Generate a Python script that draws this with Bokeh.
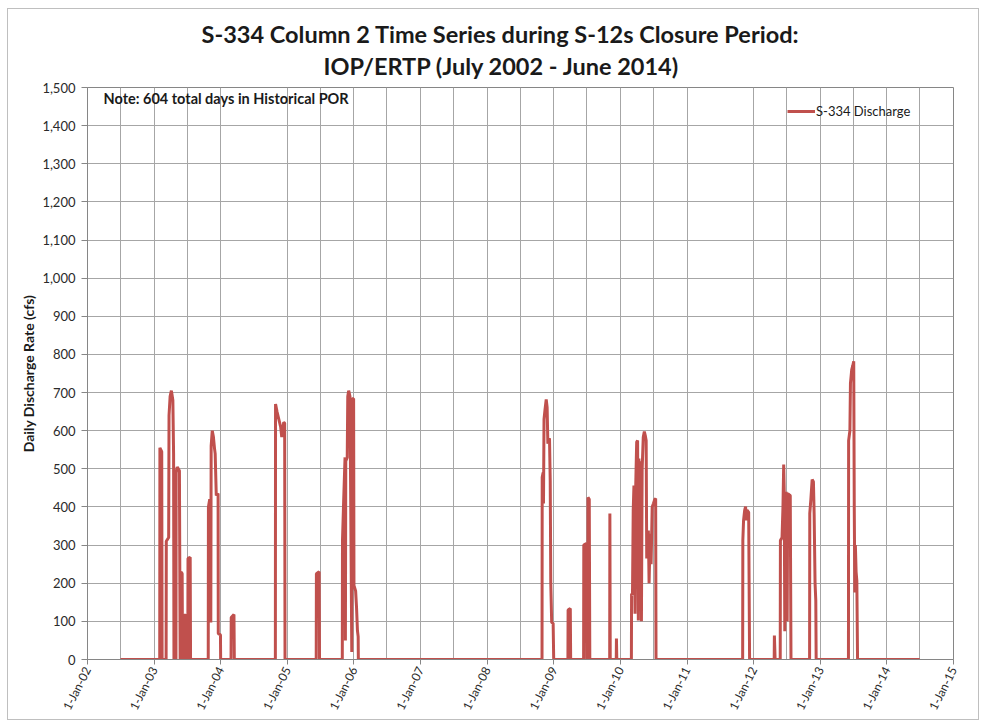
import pandas as pd
from bokeh.plotting import figure
from bokeh.models import (FixedTicker, DatetimeTickFormatter, NumeralTickFormatter,
                          Label, Range1d, ColumnDataSource, Title)
from bokeh.embed import file_html
from bokeh.resources import INLINE

# ---------------- data ----------------
dates = [
    "2002-07-01",
    "2003-02-01", "2003-02-02", "2003-02-12", "2003-02-14",
    "2003-03-08", "2003-03-09", "2003-03-22", "2003-03-24", "2003-03-30", "2003-04-06",
    "2003-04-14", "2003-04-18", "2003-04-20", "2003-05-01", "2003-05-02", "2003-05-08",
    "2003-05-20", "2003-05-24", "2003-05-28", "2003-06-04", "2003-06-06", "2003-06-16",
    "2003-06-17", "2003-06-24", "2003-06-26", "2003-07-05", "2003-07-06", "2003-07-18",
    "2003-07-20",
    "2003-10-25", "2003-10-26", "2003-11-02", "2003-11-06", "2003-11-08", "2003-11-10",
    "2003-11-16", "2003-11-22", "2003-11-28", "2003-12-02", "2003-12-08", "2003-12-18",
    "2003-12-19", "2003-12-31", "2004-01-01",
    "2004-02-27", "2004-02-28", "2004-03-14", "2004-03-16",
    "2004-10-27", "2004-10-28", "2004-11-05", "2004-11-15", "2004-11-25", "2004-12-01",
    "2004-12-05", "2004-12-12", "2004-12-17", "2004-12-19",
    "2005-06-08", "2005-06-09", "2005-06-24", "2005-06-26",
    "2005-10-29", "2005-10-30", "2005-11-05", "2005-11-13", "2005-11-15", "2005-11-17",
    "2005-11-25", "2005-11-28", "2005-12-03", "2005-12-10", "2005-12-20", "2005-12-22",
    "2005-12-30", "2006-01-01", "2006-01-10", "2006-01-15", "2006-01-20", "2006-01-24",
    "2006-01-25",
    "2008-10-28", "2008-10-29", "2008-11-03", "2008-11-05", "2008-11-08", "2008-11-14",
    "2008-11-20", "2008-11-25", "2008-11-29", "2008-12-04", "2008-12-08", "2008-12-12",
    "2008-12-15", "2008-12-20", "2008-12-28", "2008-12-31",
    "2009-03-19", "2009-03-20", "2009-04-01", "2009-04-03",
    "2009-06-13", "2009-06-14", "2009-06-28", "2009-06-30", "2009-07-06", "2009-07-07",
    "2009-07-14", "2009-07-17",
    "2009-11-03", "2009-11-04", "2009-11-06",
    "2009-12-09", "2009-12-10", "2009-12-12",
    "2010-03-02", "2010-03-03", "2010-03-08", "2010-03-12", "2010-03-16", "2010-03-19",
    "2010-03-22", "2010-03-26", "2010-03-31", "2010-04-05", "2010-04-09", "2010-04-12",
    "2010-04-18", "2010-04-22", "2010-04-26", "2010-04-30", "2010-05-06", "2010-05-12",
    "2010-05-18", "2010-05-22", "2010-05-25", "2010-05-29", "2010-06-03", "2010-06-07",
    "2010-06-13", "2010-06-18", "2010-06-24", "2010-07-01", "2010-07-08", "2010-07-13",
    "2010-07-15",
    "2011-11-02", "2011-11-03", "2011-11-07", "2011-11-13", "2011-11-18", "2011-11-22",
    "2011-11-26", "2011-12-05", "2011-12-10",
    "2012-04-23", "2012-04-24", "2012-04-28",
    "2012-05-26", "2012-05-27", "2012-06-05", "2012-06-10", "2012-06-14", "2012-06-17",
    "2012-06-20", "2012-06-24", "2012-06-28", "2012-07-03", "2012-07-06", "2012-07-14",
    "2012-07-20", "2012-07-24",
    "2012-11-03", "2012-11-04", "2012-11-10", "2012-11-17", "2012-11-24", "2012-11-28",
    "2012-12-03", "2012-12-07", "2012-12-09",
    "2013-06-04", "2013-06-05", "2013-06-12", "2013-06-15", "2013-06-22", "2013-06-28",
    "2013-07-03", "2013-07-06", "2013-07-09", "2013-07-12", "2013-07-16", "2013-07-20",
    "2013-07-24",
    "2014-06-30",
]
discharge = [
    0,
    0, 555, 545, 0,
    0, 310, 320, 640, 690, 705,
    680, 540, 0, 0, 490, 505,
    495, 0, 230, 225, 0, 0,
    115, 118, 0, 0, 265, 268,
    0,
    0, 400, 420, 410, 97, 560,
    600, 585, 555, 540, 430, 435,
    68, 65, 0,
    0, 110, 118, 0,
    0, 670, 650, 630, 610, 583,
    600, 622, 620, 0,
    0, 225, 230, 0,
    0, 312, 409, 530, 50, 520,
    530, 690, 705, 690, 20, 684,
    684, 194, 180, 137, 76, 60,
    0,
    0, 478, 490, 409, 630, 658,
    682, 661, 566, 575, 580, 469,
    200, 97, 95, 0,
    0, 130, 134, 0,
    0, 300, 304, 0, 0, 425,
    420, 0,
    0, 383, 0,
    0, 55, 0,
    0, 173, 170, 391, 456, 300,
    120, 460, 570, 574, 102, 527,
    450, 520, 100, 500, 583, 598,
    585, 574, 265, 330, 338, 200,
    330, 250, 400, 409, 420, 422,
    0,
    0, 312, 365, 391, 401, 365,
    392, 386, 0,
    0, 63, 0,
    0, 312, 320, 400, 511, 440,
    74, 430, 440, 100, 435, 432,
    430, 0,
    0, 383, 420, 472, 466, 380,
    200, 155, 0,
    0, 574, 600, 724, 760, 771,
    782, 391, 176, 300, 230, 207,
    0,
    0,
]
series_name = "S-334 Discharge"
x_tick_dates = ["%d-01-01" % y for y in range(2002, 2016)]
x_grid_dates = [
    "2002-01-01", "2002-07-01", "2003-01-01", "2003-07-01", "2004-01-01",
    "2005-01-01", "2005-07-01", "2006-01-01", "2006-07-01", "2007-01-01", "2007-07-01",
    "2008-01-01", "2008-07-01", "2009-01-01", "2009-07-01", "2010-01-01", "2010-07-01",
    "2011-01-01", "2012-01-01", "2012-07-01", "2013-01-01", "2013-07-01",
    "2014-01-01", "2014-07-01", "2015-01-01",
]
y_ticks = list(range(0, 1501, 100))
title_lines = ["S-334 Column 2 Time Series during S-12s Closure Period:",
               "IOP/ERTP (July 2002 - June 2014)"]
note_text = "Note: 604 total days in Historical POR"


def ms(s):
    return pd.Timestamp(s).value / 1e6


FONT = "Lato"
LINE_COLOR = "#C0504D"
GRID = "#A6A6A6"
TXT = "#1a1a1a"

src = ColumnDataSource(dict(x=pd.to_datetime(dates), y=discharge))

p = figure(frame_width=866, frame_height=572, x_axis_type="datetime",
           output_backend="svg", toolbar_location=None,
           min_border_left=79, min_border_right=25,
           min_border_top=78, min_border_bottom=60)
p.x_range = Range1d(ms(x_tick_dates[0]), ms(x_tick_dates[-1]))
p.y_range = Range1d(0, 1500)

p.line("x", "y", source=src, line_color=LINE_COLOR, line_width=3,
       legend_label=series_name)

# axes
p.xaxis.ticker = FixedTicker(ticks=[ms(d) for d in x_tick_dates])
fmt = "%-d-%b-%y"
p.xaxis.formatter = DatetimeTickFormatter(
    milliseconds=fmt, seconds=fmt, minsec=fmt, minutes=fmt, hourmin=fmt,
    hours=fmt, days=fmt, months=fmt, years=fmt)
p.xaxis.major_label_orientation = 1.1
p.yaxis.ticker = FixedTicker(ticks=y_ticks)
p.yaxis.formatter = NumeralTickFormatter(format="0,0")
p.yaxis.axis_label = "Daily Discharge Rate (cfs)"
p.yaxis.axis_label_text_font = FONT
p.yaxis.axis_label_text_font_style = "bold"
p.yaxis.axis_label_text_font_size = "14px"
p.yaxis.axis_label_text_color = TXT
p.yaxis.axis_label_standoff = 2
for ax in (p.xaxis, p.yaxis):
    ax.major_label_text_font = FONT
    ax.major_label_text_color = "#2a2a2a"
    ax.axis_line_color = "#868686"
    ax.major_tick_line_color = "#868686"
    ax.major_tick_in = 0
    ax.minor_tick_line_color = None
p.yaxis.major_label_text_font_size = "13px"
p.yaxis.major_tick_out = 6
p.yaxis.major_label_standoff = 6
p.xaxis.major_label_text_font_size = "12px"
p.xaxis.major_tick_out = 5
p.xaxis.major_label_standoff = 3

# grid
p.xgrid.ticker = FixedTicker(ticks=[ms(d) for d in x_grid_dates])
p.xgrid.grid_line_color = GRID
p.ygrid.grid_line_color = GRID
p.outline_line_color = "#868686"
p.background_fill_color = "white"
p.border_fill_color = "white"

# legend
lg = p.legend[0]
lg.location = (700, 538)
lg.border_line_color = None
lg.background_fill_alpha = 0
lg.glyph_width = 28
lg.label_standoff = 1
lg.padding = 0
lg.margin = 0
lg.spacing = 0
lg.label_text_font = FONT
lg.label_text_font_size = "13px"
lg.label_text_color = TXT

# two-line title (line 2 nearest the frame)
t2 = Title(text=title_lines[1], align="left", offset=236, text_font=FONT,
           text_font_size="23.5px", text_font_style="bold", text_color=TXT,
           vertical_align="middle", standoff=13)
t1 = Title(text=title_lines[0], align="left", offset=114, text_font=FONT,
           text_font_size="23.5px", text_font_style="bold", text_color=TXT,
           vertical_align="middle", standoff=-9)
p.add_layout(t2, "above")
p.add_layout(t1, "above")

p.add_layout(Label(x=16, y=561, x_units="screen", y_units="screen",
                   text=note_text, text_align="left", text_baseline="middle",
                   text_font=FONT, text_font_size="14.5px", text_font_style="bold",
                   text_color=TXT))

p.styles = {"border": "1px solid #BFBFBF", "margin-left": "7px", "margin-top": "8px"}

open("out.html", "w").write(file_html(p, INLINE))
